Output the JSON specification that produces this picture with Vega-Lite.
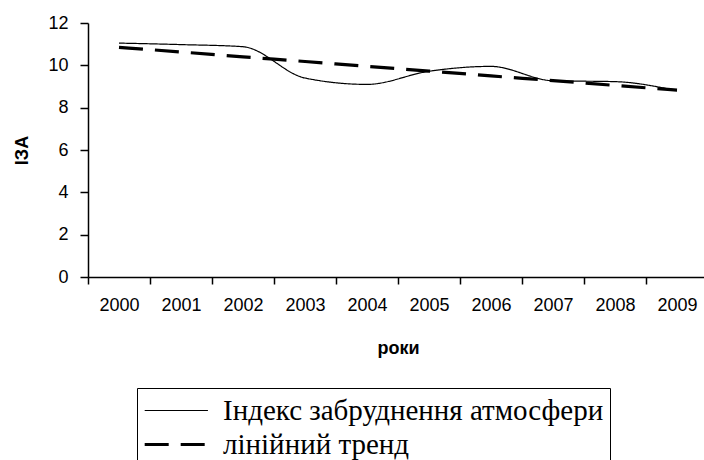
{
  "$schema": "https://vega.github.io/schema/vega-lite/v6.json",
  "autosize": {"type": "none"},
  "padding": {"left": 88, "top": 23, "right": 0, "bottom": 183},
  "width": 620,
  "height": 254,
  "background": "white",
  "data": {
    "values": [
      {"year": "2000", "series": "Індекс забруднення атмосфери", "value": 11.05},
      {"year": "2001", "series": "Індекс забруднення атмосфери", "value": 10.98},
      {"year": "2002", "series": "Індекс забруднення атмосфери", "value": 10.88},
      {"year": "2003", "series": "Індекс забруднення атмосфери", "value": 9.4},
      {"year": "2004", "series": "Індекс забруднення атмосфери", "value": 9.1},
      {"year": "2005", "series": "Індекс забруднення атмосфери", "value": 9.72},
      {"year": "2006", "series": "Індекс забруднення атмосфери", "value": 9.95},
      {"year": "2007", "series": "Індекс забруднення атмосфери", "value": 9.27},
      {"year": "2008", "series": "Індекс забруднення атмосфери", "value": 9.23},
      {"year": "2009", "series": "Індекс забруднення атмосфери", "value": 8.8},
      {"year": "2000", "series": "лінійний тренд", "value": 10.85},
      {"year": "2001", "series": "лінійний тренд", "value": 10.63},
      {"year": "2002", "series": "лінійний тренд", "value": 10.4},
      {"year": "2003", "series": "лінійний тренд", "value": 10.18},
      {"year": "2004", "series": "лінійний тренд", "value": 9.95},
      {"year": "2005", "series": "лінійний тренд", "value": 9.73},
      {"year": "2006", "series": "лінійний тренд", "value": 9.5},
      {"year": "2007", "series": "лінійний тренд", "value": 9.28},
      {"year": "2008", "series": "лінійний тренд", "value": 9.05},
      {"year": "2009", "series": "лінійний тренд", "value": 8.83}
    ]
  },
  "mark": {"type": "line", "interpolate": "monotone", "color": "black"},
  "encoding": {
    "x": {
      "field": "year", "type": "nominal", "sort": null,
      "scale": {"paddingInner": 0, "paddingOuter": 0},
      "axis": {
        "title": "роки", "labelAngle": 0, "tickBand": "extent",
        "domainColor": "black", "tickColor": "black", "domainWidth": 1.5, "tickWidth": 1.5, "tickSize": 7,
        "labelFont": "Liberation Sans", "labelFontSize": 18, "labelColor": "black", "labelPadding": 12,
        "titleFont": "Liberation Sans", "titleFontSize": 18, "titleFontWeight": "bold", "titleColor": "black",
        "titleY": 71, "titleBaseline": "middle"
      }
    },
    "y": {
      "field": "value", "type": "quantitative",
      "scale": {"domain": [0, 12], "nice": false},
      "axis": {
        "title": "ІЗА", "values": [0, 2, 4, 6, 8, 10, 12], "grid": false,
        "domainColor": "black", "tickColor": "black", "domainWidth": 1.5, "tickWidth": 1.5, "tickSize": 8,
        "labelFont": "Liberation Sans", "labelFontSize": 18, "labelColor": "black", "labelPadding": 12,
        "titleFont": "Liberation Sans", "titleFontSize": 18, "titleFontWeight": "bold", "titleColor": "black",
        "titleX": -66, "titleY": 127, "titleBaseline": "middle", "titleAngle": -90
      }
    },
    "strokeDash": {
      "field": "series", "type": "nominal",
      "scale": {"domain": ["Індекс забруднення атмосфери", "лінійний тренд"], "range": [[1, 0], [24, 12]]},
      "legend": {"title": null}
    },
    "strokeWidth": {
      "field": "series", "type": "nominal",
      "scale": {"domain": ["Індекс забруднення атмосфери", "лінійний тренд"], "range": [1.2, 3.2]},
      "legend": {"title": null}
    }
  },
  "config": {
    "view": {"stroke": null},
    "legend": {
      "orient": "none", "legendX": 49, "legendY": 365,
      "strokeColor": "black", "padding": 6,
      "symbolType": "M-1,0H3", "symbolSize": 1000, "symbolStrokeColor": "black",
      "labelFont": "Liberation Serif", "labelFontSize": 29, "labelColor": "black", "labelLimit": 600,
      "rowPadding": 1, "labelOffset": 45
    }
  }
}
